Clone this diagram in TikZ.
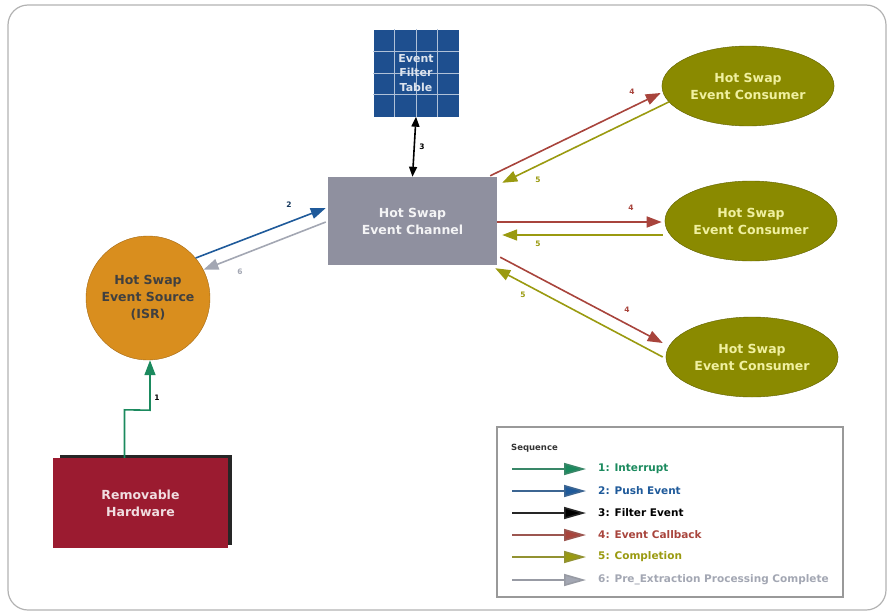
\documentclass[tikz,border=0pt]{standalone}
\usepackage{fontspec}
\setmainfont{DejaVu Sans}
\usetikzlibrary{arrows.meta,calc,shapes.geometric}
\definecolor{cgreen}{HTML}{1B8A5E}
\definecolor{cblue}{HTML}{1F5A9A}
\definecolor{cred}{HTML}{A8443C}
\definecolor{colive}{HTML}{9A9A10}
\definecolor{cgray}{HTML}{A3A7B3}
\definecolor{chan}{HTML}{8F909F}
\definecolor{srcor}{HTML}{D98E1E}
\definecolor{hwred}{HTML}{9B1B30}
\definecolor{consol}{HTML}{8A8A00}
\definecolor{eftblue}{HTML}{1E4F8F}
\definecolor{constext}{HTML}{F0F0A0}
\tikzset{
  tip/.style={-{Triangle[length=15pt,width=11pt]}},
  arr/.style={line width=1.6pt,tip},
  darr/.style={line width=1.6pt,{Triangle[length=10pt,width=8pt]}-{Triangle[length=10pt,width=8pt]}},
  num/.style={font=\bfseries\fontsize{7.5}{8}\selectfont,inner sep=1pt},
  nodefont/.style={font=\bfseries\fontsize{12.5}{17}\selectfont},
  consumer/.style={ellipse,fill=consol,draw=consol!70!black,minimum width=172pt,minimum height=80pt,
    text=constext,nodefont,align=center},
  legtext/.style={anchor=west,font=\bfseries\fontsize{10.5}{12}\selectfont,inner sep=0pt},
}
\begin{document}
\begin{tikzpicture}[x=1pt,y=-1pt]
\useasboundingbox (0,0) rectangle (892,616);
\draw[rounded corners=20pt,draw=black!30,line width=1.2pt] (8,5) rectangle (886,610);

% Event filter table
\node[fill=eftblue,minimum width=85pt,minimum height=87pt,inner sep=0pt] (eft) at (416,73) {};
\foreach \i in {1,2,3} {
  \draw[white!65!eftblue,line width=0.8pt] ($(eft.north west)!\i/4!(eft.north east)$) -- ($(eft.south west)!\i/4!(eft.south east)$);
  \draw[white!65!eftblue,line width=0.8pt] ($(eft.north west)!\i/4!(eft.south west)$) -- ($(eft.north east)!\i/4!(eft.south east)$);
}
\node[text=white!85!eftblue,font=\bfseries\fontsize{11}{14.5}\selectfont,align=center] (eftt) at (eft) {Event\\Filter\\Table};

% Event channel
\node[fill=chan,minimum width=169pt,minimum height=88pt,text=white!90!chan,
  nodefont,align=center] (ch) at (412.5,221) {Hot Swap\\Event Channel};

% Event source
\node[circle,fill=srcor,draw=srcor!75!black,minimum size=124pt,inner sep=0pt,
  nodefont,align=center,text=black!75] (src) at (148,298) {Hot Swap\\Event Source\\(ISR)};

% Removable hardware
\node[fill=black!85,minimum width=172pt,minimum height=90pt] (hwsh) at (146,500) {};
\node[fill=hwred,minimum width=175pt,minimum height=90pt,text=white!85!hwred,
  nodefont,align=center] (hw) at (140.5,503) {Removable\\Hardware};

% Consumers
\node[consumer] (c1) at (748,86) {Hot Swap\\Event Consumer};
\node[consumer] (c2) at (751,221) {Hot Swap\\Event Consumer};
\node[consumer] (c3) at (752,357) {Hot Swap\\Event Consumer};

% Arrow 1
\coordinate (k1) at ($(hw.north)+(-16,-48)$);
\coordinate (k2) at ($(src.south)+(2,50)$);
\draw[arr,cgreen] ($(hw.north)+(-16,0)$) -- (k1) -- (k2) -- ($(src.south)+(2,0)$);
\node[num,text=black] (n1) at (157,398) {1};

% Arrow 2 / 6
\draw[arr,cblue] (src.40) -- ($(ch.west)+(-2,-13)$);
\node[num,text=cblue!60!black] (n2) at (289,205) {2};
\draw[arr,cgray] ($(ch.west)+(-2,1)$) -- (src.27);
\node[num,text=cgray] (n6) at (240,272) {6};

% Arrow 3
\draw[darr,black] (eft.south) -- (ch.north);
\node[num] (n3) at (422,147) {3};

% Consumer arrows
\draw[arr,cred] ($(ch.north east)+(-7,-1)$) -- ($(c1.west)+(-1,7)$);
\draw[arr,colive] ($(c1.west)+(7,16)$) -- ($(ch.north east)+(5,6)$);
\node[num,text=cred] (n4a) at (632,92) {4};
\node[num,text=colive] (n5a) at (538,180) {5};

\draw[arr,cred] ($(ch.east)+(0,1)$) -- ($(c2.west)+(-3,1)$);
\draw[arr,colive] ($(c2.west)+(-2,14)$) -- ($(ch.east)+(5,14)$);
\node[num,text=cred] (n4b) at (631,208) {4};
\node[num,text=colive] (n5b) at (538,244) {5};

\draw[arr,cred] ($(ch.south east)+(3,-8)$) -- ($(c3.west)+(-3,-14)$);
\draw[arr,colive] ($(c3.west)+(-3,0)$) -- ($(ch.south east)+(-2,3)$);
\node[num,text=cred] (n4c) at (627,310) {4};
\node[num,text=colive] (n5c) at (523,295) {5};

% Legend
\node[draw=black!40,line width=1.5pt,minimum width=346pt,minimum height=170pt,inner sep=0pt] (leg) at (670,512) {};
\node[anchor=west,font=\bfseries\fontsize{8.5}{10}\selectfont,inner sep=0pt,text=black!80] (seq) at (511,448) {Sequence};
\foreach \y/\c/\t/\n in {469/cgreen/{1: Interrupt}/l1, 491/cblue/{2: Push Event}/l2, 513/black/{3: Filter Event}/l3, 535/cred/{4: Event Callback}/l4, 557/colive/{5: Completion}/l5, 580/cgray/{6: Pre\_Extraction Processing Complete}/l6} {
  \coordinate (\n a) at (512,\y);
  \node[legtext,text=\c] (\n) at (598,\y) {\t};
  \draw[line width=1.6pt,draw=\c!70!gray,-{Triangle[length=22pt,width=12pt,fill=\c]}] (\n a) -- ($(\n.west)+(-12,0)$);
}
\end{tikzpicture}
\end{document}
